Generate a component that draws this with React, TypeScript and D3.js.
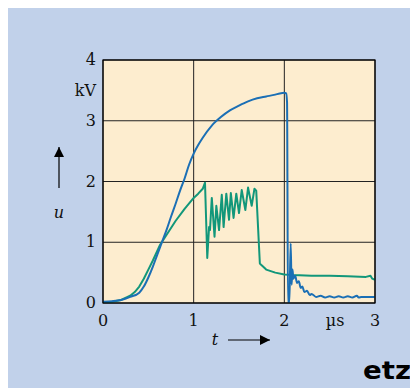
import React from 'react';
import * as d3 from 'd3';

// t in µs, u in kV
const blueT = [0, 0.1, 0.2, 0.3, 0.4, 0.45, 0.5, 0.55, 0.6, 0.65, 0.7, 0.75, 0.8, 0.85, 0.9, 0.95, 1.0, 1.05, 1.1, 1.2, 1.3, 1.4, 1.5, 1.6, 1.7, 1.8, 1.9, 1.95, 2.0, 2.02, 2.03, 2.04, 2.055, 2.07, 2.08, 2.09, 2.1, 2.12, 2.14, 2.16, 2.18, 2.2, 2.22, 2.25, 2.28, 2.3, 2.35, 2.4, 2.45, 2.5, 2.55, 2.6, 2.65, 2.7, 2.75, 2.8, 2.82, 2.85, 3.0];
const blueU = [0.02, 0.03, 0.05, 0.1, 0.17, 0.27, 0.42, 0.6, 0.8, 1.0, 1.2, 1.42, 1.63, 1.85, 2.05, 2.28, 2.46, 2.6, 2.72, 2.92, 3.06, 3.17, 3.25, 3.32, 3.37, 3.4, 3.43, 3.45, 3.46, 3.45, 3.3, 0, 0, 0.98, 0.3, 0.55, 0.4, 0.45, 0.33, 0.36, 0.25, 0.27, 0.18, 0.2, 0.13, 0.15, 0.1, 0.12, 0.09, 0.11, 0.09, 0.11, 0.09, 0.11, 0.09, 0.12, 0.09, 0.1, 0.1];

const greenT = [0, 0.1, 0.2, 0.3, 0.35, 0.4, 0.45, 0.5, 0.55, 0.63, 0.7, 0.8, 0.9, 1.0, 1.05, 1.1, 1.125, 1.15, 1.17, 1.18, 1.2, 1.23, 1.25, 1.28, 1.31, 1.33, 1.36, 1.39, 1.41, 1.44, 1.47, 1.5, 1.53, 1.57, 1.6, 1.64, 1.67, 1.69, 1.73, 1.75, 1.8, 1.9, 2.0, 2.1, 2.3, 2.5, 2.7, 2.9, 2.95, 2.97, 3.0];
const greenU = [0, 0.02, 0.05, 0.12, 0.18, 0.27, 0.4, 0.55, 0.7, 0.96, 1.12, 1.35, 1.55, 1.73, 1.8, 1.88, 1.98, 0.74, 1.25, 1.2, 1.73, 1.09, 1.6, 1.2, 1.78, 1.25, 1.8, 1.37, 1.81, 1.4, 1.8, 1.48, 1.86, 1.53, 1.9, 1.6, 1.88, 1.85, 0.65, 0.62, 0.55, 0.5, 0.47, 0.46, 0.45, 0.45, 0.44, 0.43, 0.45, 0.4, 0.38];

const xTicks = [0, 1, 2, 3];
const yTicks = [0, 1, 2, 3, 4];

const W = 410, H = 380;
const left = 95, top = 52, right = 367, bottom = 295;

export default function App() {
  const x = d3.scaleLinear().domain([0, 3]).range([left, right]);
  const y = d3.scaleLinear().domain([0, 4]).range([bottom, top]);
  const smooth = d3.line<[number, number]>().x(d => x(d[0])).y(d => y(d[1])).curve(d3.curveMonotoneX);
  const sharp = d3.line<[number, number]>().x(d => x(d[0])).y(d => y(d[1]));
  const blue = smooth(blueT.map((t, i) => [t, blueU[i]]) as [number, number][]) || '';
  const green = sharp(greenT.map((t, i) => [t, greenU[i]]) as [number, number][]) || '';
  const serif = '"DejaVu Serif", serif';

  return (
    <svg width={W} height={H} style={{ display: 'block' }}>
      <defs>
        <clipPath id="plot">
          <rect x={left} y={top} width={right - left} height={bottom - top} />
        </clipPath>
        <marker id="ah" viewBox="0 0 10 10" refX="10" refY="5" markerWidth="10" markerHeight="10" markerUnits="userSpaceOnUse" orient="auto">
          <path d="M0,0 L10,5 L0,10 z" fill="#000" />
        </marker>
      </defs>
      <rect width={W} height={H} fill="#c1d1ea" />
      <rect x={left} y={top} width={right - left} height={bottom - top} fill="#fdedcf" />
      {xTicks.map(t => (
        <line key={'gx' + t} x1={x(t)} x2={x(t)} y1={top} y2={bottom} stroke="#222" strokeWidth={1} />
      ))}
      {yTicks.map(t => (
        <line key={'gy' + t} x1={left} x2={right} y1={y(t)} y2={y(t)} stroke="#222" strokeWidth={1} />
      ))}
      <g clipPath="url(#plot)" fill="none" strokeWidth={2} strokeLinejoin="round">
        <path d={green} stroke="#12977a" />
        <path d={blue} stroke="#1b6fb5" />
      </g>
      <rect x={left} y={top} width={right - left} height={bottom - top} fill="none" stroke="#000" strokeWidth={1.2} />
      <g fontFamily={serif} fontSize={16} fill="#111">
        {yTicks.map(t => (
          <text key={'ly' + t} x={left - 7} y={y(t) + 5} textAnchor="end">{t}</text>
        ))}
        <text x={left - 7} y={y(3.5) + 6} textAnchor="end">kV</text>
        {xTicks.map(t => (
          <text key={'lx' + t} x={x(t)} y={bottom + 23} textAnchor="middle">{t}</text>
        ))}
        <text x={x(2.56)} y={bottom + 23} textAnchor="middle">µs</text>
        <text x={207} y={337} fontStyle="italic" textAnchor="middle">t</text>
        <text x={51} y={210} fontStyle="italic" textAnchor="middle">u</text>
      </g>
      <line x1={220} x2={262} y1={332} y2={332} stroke="#000" strokeWidth={1.2} markerEnd="url(#ah)" />
      <line x1={51} x2={51} y1={180} y2={139} stroke="#000" strokeWidth={1.2} markerEnd="url(#ah)" />
      <text x={355} y={371} fontFamily='"DejaVu Sans", sans-serif' fontWeight="bold" fontSize={24} textLength={48} lengthAdjust="spacingAndGlyphs" fill="#000">etz</text>
    </svg>
  );
}
